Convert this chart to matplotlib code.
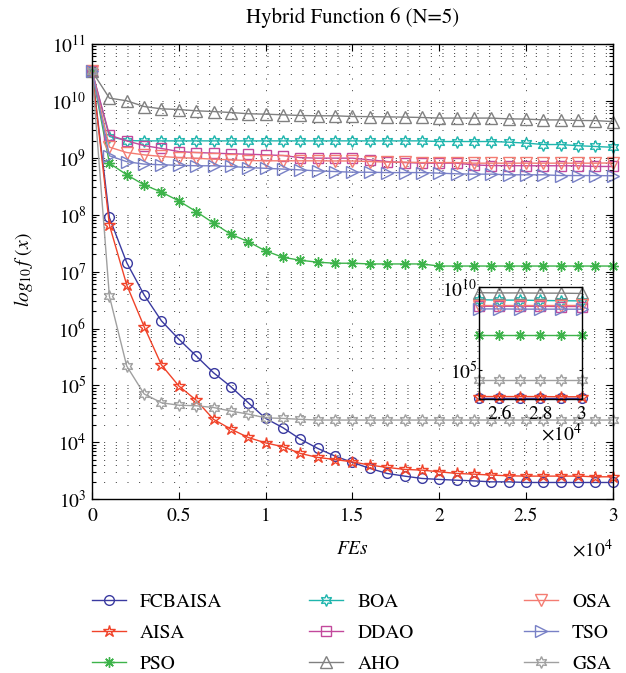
import numpy as np
import matplotlib
matplotlib.use("Agg")
import matplotlib.pyplot as plt
from matplotlib.ticker import FixedLocator, FuncFormatter, LogLocator, NullFormatter, NullLocator

# function evaluations, one recorded value every 1000 FEs
fes = np.arange(31) * 1000

fcbaisa = [3.3e10, 8.9e7, 1.43e7, 3.9e6, 1.36e6, 6.5e5, 3.3e5, 1.67e5, 9.5e4, 4.97e4,
           2.64e4, 1.81e4, 1.14e4, 7.85e3, 5.75e3, 4.45e3, 3.5e3, 2.85e3, 2.56e3, 2.33e3,
           2.24e3, 2.17e3, 2.11e3, 2.03e3, 2.03e3, 1.98e3, 1.98e3, 1.98e3, 1.98e3, 1.98e3,
           1.98e3]
aisa = [3.3e10, 6.6e7, 5.8e6, 1.08e6, 2.29e5, 9.8e4, 5.5e4, 2.54e4, 1.71e4, 1.22e4,
        9.8e3, 8.4e3, 6.4e3, 5.45e3, 5.0e3, 4.55e3, 4.0e3, 3.64e3, 3.36e3, 3.26e3,
        3.05e3, 2.85e3, 2.77e3, 2.67e3, 2.59e3, 2.56e3, 2.56e3, 2.56e3, 2.56e3, 2.49e3,
        2.49e3]
pso = [3.3e10, 8.0e8, 5.0e8, 3.33e8, 2.48e8, 1.74e8, 1.13e8, 7.1e7, 4.5e7, 3.35e7,
       2.3e7, 1.78e7, 1.58e7, 1.46e7, 1.4e7, 1.4e7, 1.36e7, 1.36e7, 1.36e7, 1.36e7,
       1.25e7, 1.25e7, 1.25e7, 1.25e7, 1.25e7, 1.25e7, 1.25e7, 1.25e7, 1.25e7, 1.25e7,
       1.25e7]
boa = [3.3e10, 2.35e9, 2.0e9, 1.97e9, 1.97e9, 1.97e9, 1.97e9, 1.97e9, 1.97e9, 1.97e9,
       1.97e9, 1.97e9, 1.97e9, 1.97e9, 1.97e9, 1.97e9, 1.97e9, 1.97e9, 1.97e9, 1.97e9,
       1.92e9, 1.92e9, 1.92e9, 1.92e9, 1.87e9, 1.8e9, 1.7e9, 1.7e9, 1.62e9, 1.57e9,
       1.52e9]
ddao = [3.3e10, 2.5e9, 1.97e9, 1.63e9, 1.45e9, 1.28e9, 1.23e9, 1.2e9, 1.17e9, 1.15e9,
        1.12e9, 1.09e9, 1.0e9, 9.8e8, 9.8e8, 9.8e8, 9.15e8, 8.55e8, 8.2e8, 8.0e8,
        8.0e8, 8.0e8, 7.45e8, 7.25e8, 7.25e8, 7.2e8, 7.2e8, 7.2e8, 7.2e8, 7.0e8,
        7.0e8]
aho = [3.3e10, 1.11e10, 9.96e9, 7.9e9, 7.2e9, 7.0e9, 6.65e9, 6.45e9, 6.2e9, 5.9e9,
       5.8e9, 5.65e9, 5.5e9, 5.43e9, 5.43e9, 5.28e9, 5.25e9, 5.2e9, 5.15e9, 5.07e9,
       4.95e9, 4.95e9, 4.95e9, 4.95e9, 4.8e9, 4.76e9, 4.6e9, 4.6e9, 4.5e9, 4.47e9,
       4.3e9]
osa = [3.3e10, 1.53e9, 1.23e9, 1.12e9, 1.05e9, 1.0e9, 9.77e8, 9.4e8, 9.15e8, 8.9e8,
       8.8e8, 8.8e8, 8.8e8, 8.8e8, 8.75e8, 8.75e8, 8.55e8, 8.35e8, 8.35e8, 8.2e8,
       8.2e8, 8.2e8, 8.0e8, 8.0e8, 8.0e8, 8.0e8, 8.0e8, 8.0e8, 8.0e8, 8.0e8,
       8.1e8]
tso = [3.3e10, 1.08e9, 8.5e8, 7.7e8, 7.5e8, 7.35e8, 7.2e8, 7.2e8, 7.0e8, 6.7e8,
       6.5e8, 6.3e8, 6.1e8, 5.85e8, 5.7e8, 5.55e8, 5.55e8, 5.47e8, 5.47e8, 5.47e8,
       5.35e8, 5.2e8, 5.13e8, 5.13e8, 5.0e8, 5.0e8, 5.0e8, 4.85e8, 4.85e8, 4.85e8,
       4.8e8]
gsa = [3.3e10, 3.7e6, 2.19e5, 7.1e4, 4.97e4, 4.5e4, 4.4e4, 4.1e4, 3.55e4, 3.14e4,
       2.7e4, 2.64e4, 2.54e4, 2.47e4, 2.47e4, 2.47e4, 2.47e4, 2.47e4, 2.47e4, 2.47e4,
       2.47e4, 2.47e4, 2.47e4, 2.47e4, 2.47e4, 2.47e4, 2.47e4, 2.47e4, 2.47e4, 2.47e4,
       2.47e4]

# name, values, colour, marker, marker size
series = [
    ("FCBAISA", fcbaisa, "#3a3aa0", "o", 7),
    ("AISA", aisa, "#f0432a", "*", 9),
    ("PSO", pso, "#3db34a", (8, 2, 0), 7.5),
    ("BOA", boa, "#1fb5ad", (6, 1, 0), 8.5),
    ("DDAO", ddao, "#c2489c", "s", 6.5),
    ("AHO", aho, "#808080", "^", 8.5),
    ("OSA", osa, "#f47c72", "v", 8.5),
    ("TSO", tso, "#7880c6", ">", 8.5),
    ("GSA", gsa, "#a0a0a0", (6, 1, 0), 8.5),
]

GRID_STYLE = dict(color="0.2", linewidth=0.7, linestyle=(0, (1, 11)))


def style_axis(ax):
    ax.tick_params(which="both", direction="in", top=True, right=True,
                   labelsize=14, width=0.8)
    ax.tick_params(which="major", length=5)
    ax.tick_params(which="minor", length=3)
    for sp in ax.spines.values():
        sp.set_linewidth(1.0)


def plot_series(ax, x, sel=slice(None)):
    handles = []
    for name, vals, color, marker, ms in series:
        h, = ax.plot(x[sel], np.asarray(vals)[sel], color=color, lw=1.0,
                     marker=marker, ms=ms, mfc="none", mec=color, mew=1.0,
                     label=name, clip_on=False)
        handles.append(h)
    return handles


def main():
    plt.rcParams["font.family"] = "STIXGeneral"
    plt.rcParams["mathtext.fontset"] = "stix"

    fig = plt.figure(figsize=(6.26, 6.73), dpi=100)
    ax = fig.add_axes([0.147, 0.258, 0.832, 0.677])

    handles = plot_series(ax, fes)

    ax.set_yscale("log")
    ax.set_xlim(0, 30000)
    ax.set_ylim(1e3, 1e11)
    ax.yaxis.set_major_locator(LogLocator(base=10, numticks=20))
    ax.yaxis.set_minor_locator(LogLocator(base=10, subs=np.arange(2, 10), numticks=20))
    ax.yaxis.set_minor_formatter(NullFormatter())
    ax.xaxis.set_major_locator(FixedLocator(np.arange(0, 30001, 5000)))
    ax.xaxis.set_major_formatter(FuncFormatter(lambda v, p: f"{v / 1e4:g}"))
    ax.xaxis.set_minor_locator(NullLocator())
    style_axis(ax)
    ax.tick_params(axis="x", pad=6)
    ax.tick_params(axis="y", pad=4)
    ax.grid(True, which="major", axis="both", **GRID_STYLE)
    ax.grid(True, which="minor", axis="y", **GRID_STYLE)
    ax.set_axisbelow(True)

    ax.set_xlabel("$FEs$", fontsize=14)
    ax.xaxis.set_label_coords(0.5, -0.09)
    ax.set_ylabel("$log_{10}\\,f\\ (x)$", fontsize=14)
    ax.yaxis.set_label_coords(-0.11, 0.504)
    ax.text(1.0, -0.11, "$\\times10^4$", transform=ax.transAxes,
            ha="right", va="center", fontsize=14)
    fig.text(0.5625, 1 - 18 / 673, "Hybrid Function 6 (N=5)",
             ha="center", va="center", fontsize=15)

    # zoomed view of the last 5000 FEs
    axin = fig.add_axes([0.765, 0.407, 0.164, 0.166])
    axin.set_facecolor("white")
    plot_series(axin, fes, slice(25, None))
    axin.set_yscale("log")
    axin.set_xlim(25000, 30000)
    axin.set_ylim(1.8e3, 1e10)
    axin.yaxis.set_major_locator(FixedLocator([1e5, 1e10]))
    axin.yaxis.set_minor_locator(NullLocator())
    axin.xaxis.set_major_locator(FixedLocator([26000, 28000, 30000]))
    axin.xaxis.set_major_formatter(FuncFormatter(lambda v, p: f"{v / 1e4:g}"))
    axin.xaxis.set_minor_locator(NullLocator())
    style_axis(axin)
    axin.tick_params(which="both", length=2)
    axin.tick_params(axis="x", pad=5)
    axin.tick_params(axis="y", pad=1)
    axin.text(1.0, -0.31, "$\\times10^4$", transform=axin.transAxes,
              ha="right", va="center", fontsize=14)

    # legend in three equal-width columns
    col_x = [0.147, 0.494, 0.837]
    row_y = 0.118
    for c in range(3):
        fig.legend(handles=handles[3 * c:3 * c + 3], loc="upper left",
                   bbox_to_anchor=(col_x[c], row_y), frameon=False,
                   fontsize=14, handlelength=1.75, handletextpad=0.72,
                   labelspacing=0.68, borderaxespad=0, borderpad=0, numpoints=1)

    fig.savefig("out.png", dpi=100)


if __name__ == "__main__":
    main()
